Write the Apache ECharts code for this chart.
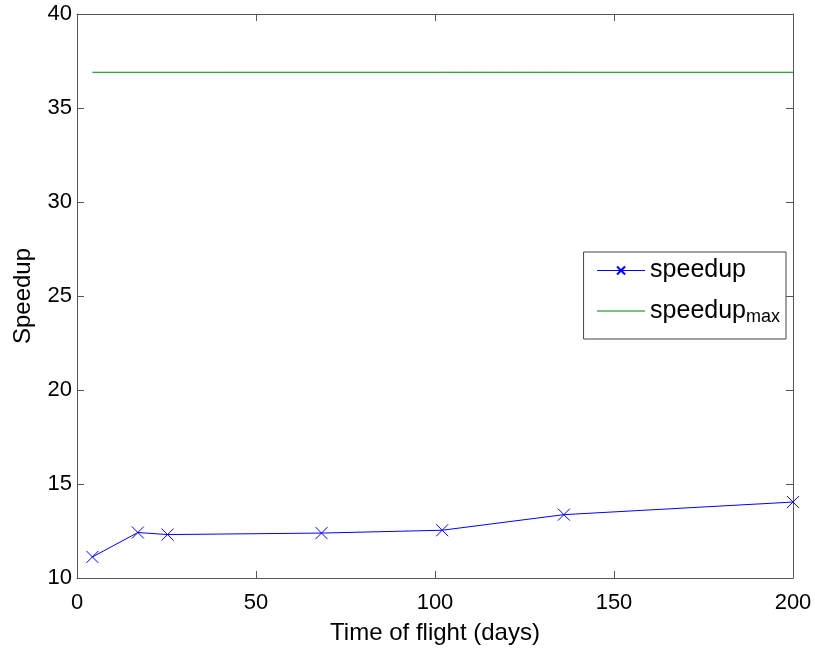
<!DOCTYPE html>
<html>
<head>
<meta charset="utf-8">
<script src="https://cdn.jsdelivr.net/npm/echarts@6/dist/echarts.min.js"></script>
<style>
  html, body { margin: 0; padding: 0; background: #fff; }
  #main { width: 815px; height: 652px; }
</style>
</head>
<body>
<div id="main"></div>
<script>
// data
var timeOfFlight = [4.3, 17, 25.3, 68.3, 102, 136, 200];
var speedup = [11.12, 12.42, 12.31, 12.39, 12.54, 13.37, 14.04];
var speedupMax = 36.9;
var maxRange = [4.3, 200];

var font = 'Liberation Sans';
var axisColor = '#555';

var dom = document.getElementById('main');
var myChart = echarts.init(dom);

var speedupData = timeOfFlight.map(function (t, i) { return [t, speedup[i]]; });
var maxData = maxRange.map(function (t) { return [t, speedupMax]; });

// tick marks pointing inward on all four sides
function boxAxis(pos, showLabels, extra) {
  var ax = {
    type: 'value',
    position: pos,
    axisLine: { show: true, onZero: false, lineStyle: { color: axisColor, width: 1 } },
    axisTick: { show: true, inside: true, length: 7, lineStyle: { color: axisColor } },
    splitLine: { show: false },
    axisLabel: { show: showLabels, color: '#000', fontFamily: font, fontSize: 22 }
  };
  return Object.assign(ax, extra);
}

var option = {
  animation: false,
  textStyle: { fontFamily: font },
  grid: { left: 77, right: 22, top: 14, bottom: 74 },
  legend: {
    right: 29,
    top: 252,
    orient: 'vertical',
    itemWidth: 48,
    itemHeight: 10,
    itemGap: 11,
    padding: [6, 6, 13, 13],
    borderColor: '#444',
    borderWidth: 1,
    borderRadius: 0,
    backgroundColor: '#fff',
    lineStyle: { width: 1 },
    data: [
      { name: 'speedup' },
      { name: 'speedupmax', itemStyle: { opacity: 0 } }
    ],
    formatter: function (name) {
      if (name === 'speedupmax') return '{n|speedup}{s|max}';
      return '{n|speedup}';
    },
    textStyle: {
      rich: {
        n: { fontFamily: font, fontSize: 25, lineHeight: 30, color: '#000' },
        s: { fontFamily: font, fontSize: 18, lineHeight: 30, color: '#000', verticalAlign: 'bottom', padding: [14, 0, 0, 0] }
      }
    }
  },
  xAxis: [
    boxAxis('bottom', true, {
      min: 0, max: 200, interval: 50,
      axisLabel: { show: true, color: '#000', fontFamily: font, fontSize: 22, margin: 14 },
      name: 'Time of flight (days)',
      nameLocation: 'middle',
      nameGap: 43,
      nameTextStyle: { fontFamily: font, fontSize: 24, color: '#000' }
    }),
    boxAxis('top', false, { min: 0, max: 200, interval: 50 })
  ],
  yAxis: [
    boxAxis('left', true, {
      min: 10, max: 40, interval: 5,
      axisLabel: { show: true, color: '#000', fontFamily: font, fontSize: 22, margin: 5 },
      name: 'Speedup',
      nameLocation: 'middle',
      nameGap: 42,
      nameTextStyle: { fontFamily: font, fontSize: 24, color: '#000' }
    }),
    boxAxis('right', false, { min: 10, max: 40, interval: 5 })
  ],
  series: [
    {
      name: 'speedup',
      type: 'line',
      data: speedupData,
      symbol: 'path://M0,0L10,10M10,0L0,10',
      symbolSize: 12,
      showAllSymbol: true,
      lineStyle: { color: '#0000ff', width: 1 },
      itemStyle: { color: 'none', borderColor: '#0000ff', borderWidth: 1 }
    },
    {
      name: 'speedupmax',
      type: 'line',
      data: maxData,
      showSymbol: false,
      symbol: 'none',
      lineStyle: { color: '#008000', width: 1 },
      itemStyle: { color: '#008000' }
    }
  ]
};

myChart.setOption(option, true);
</script>
</body>
</html>
